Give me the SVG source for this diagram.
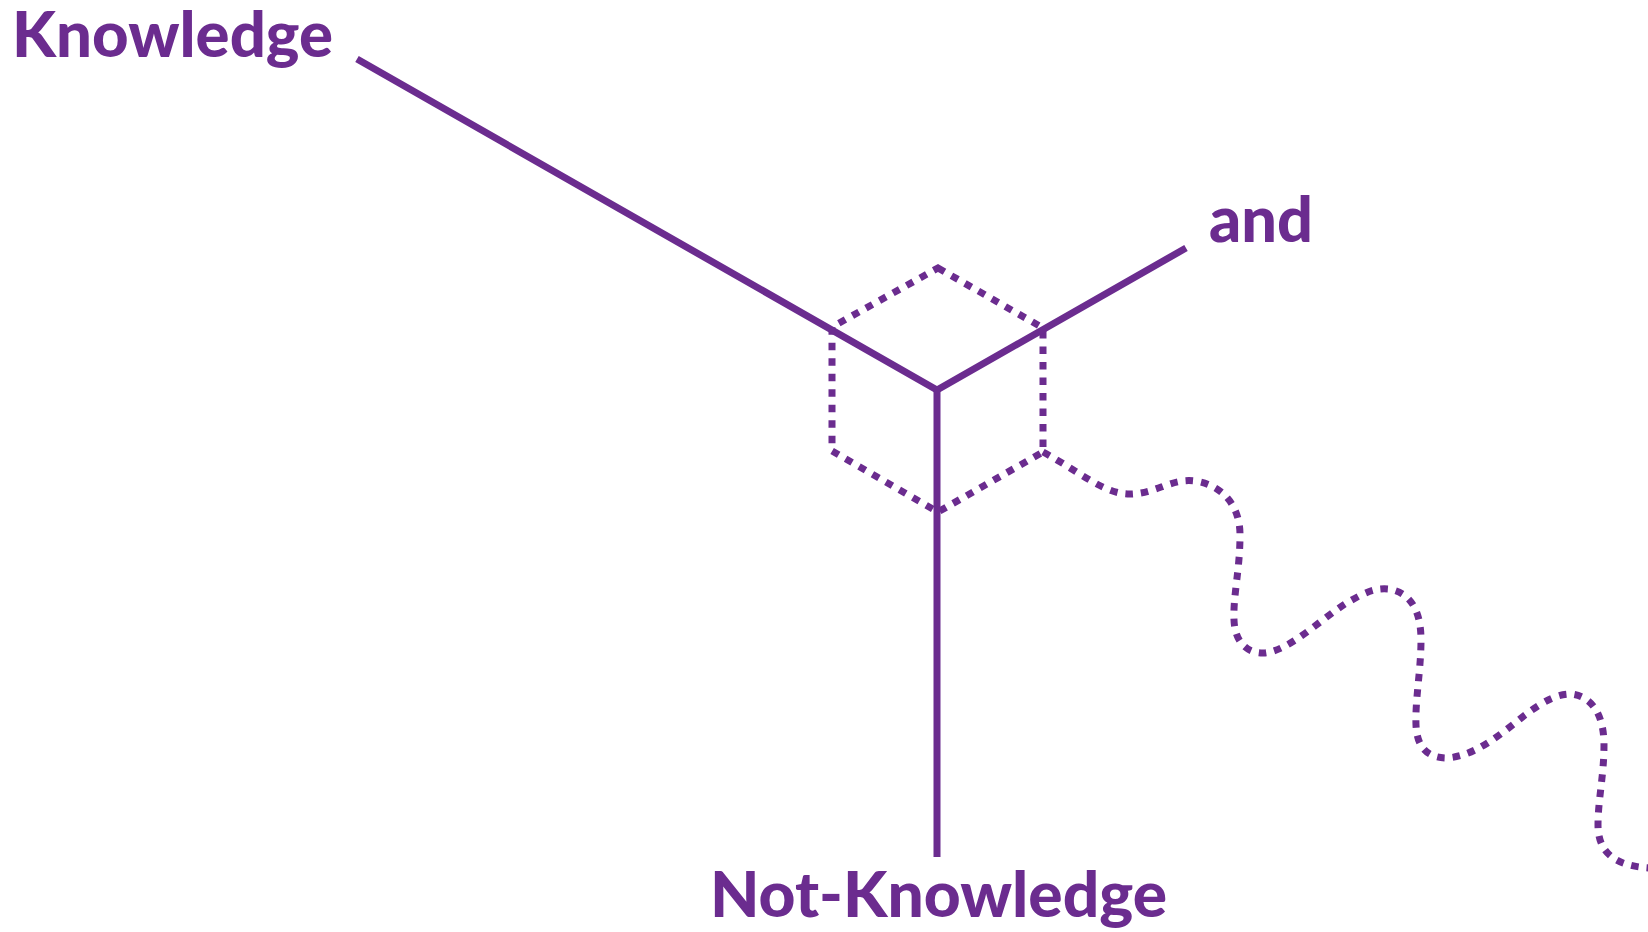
<svg xmlns="http://www.w3.org/2000/svg" width="1648" height="932" viewBox="0 0 1648 932">
<style>
.lbl{font-family:Lato,"Open Sans","Liberation Sans",sans-serif;font-weight:900;font-size:62px;fill:#6b2c8f}
.solid{fill:none;stroke:#6b2c8f;stroke-width:7;stroke-linecap:butt;stroke-linejoin:miter}
.dot{fill:none;stroke:#6b2c8f;stroke-width:7;stroke-dasharray:7.5 8}
</style>
<rect width="1648" height="932" fill="#fff"/>
<g id="hexagon">
<polygon class="dot" points="938,268 1043,328 1043,452 938,512 832,451 832,327"/>
</g>
<g id="connectors">
<path class="dot" d="M1043,452 C1080,472 1105,495 1131,494 C1157,493 1172,478 1195,481 C1222,485 1240,505 1240,535 C1240,570 1233,595 1234,620 C1235,645 1250,654 1265,653 C1290,650 1320,620 1345,604 C1365,592 1375,588 1388,589 C1410,592 1421,610 1421,640 C1421,670 1415,700 1416,725 C1417,750 1430,758 1447,758 C1475,756 1500,735 1525,715 C1545,700 1558,694 1571,694 C1592,696 1604,715 1604,745 C1604,775 1598,800 1598,825 C1598,850 1612,866 1650,868"/>
<polyline class="solid" points="357,59 937,390 1186,248"/>
<line class="solid" x1="937" y1="390" x2="937" y2="857"/>
</g>
<g id="knowledge"><text class="lbl" x="12" y="57" textLength="321" lengthAdjust="spacingAndGlyphs">Knowledge</text></g>
<g id="and"><text class="lbl" x="1209" y="242" textLength="104" lengthAdjust="spacingAndGlyphs">and</text></g>
<g id="not-knowledge"><text class="lbl" x="710" y="917" textLength="457" lengthAdjust="spacingAndGlyphs">Not-Knowledge</text></g>
</svg>
